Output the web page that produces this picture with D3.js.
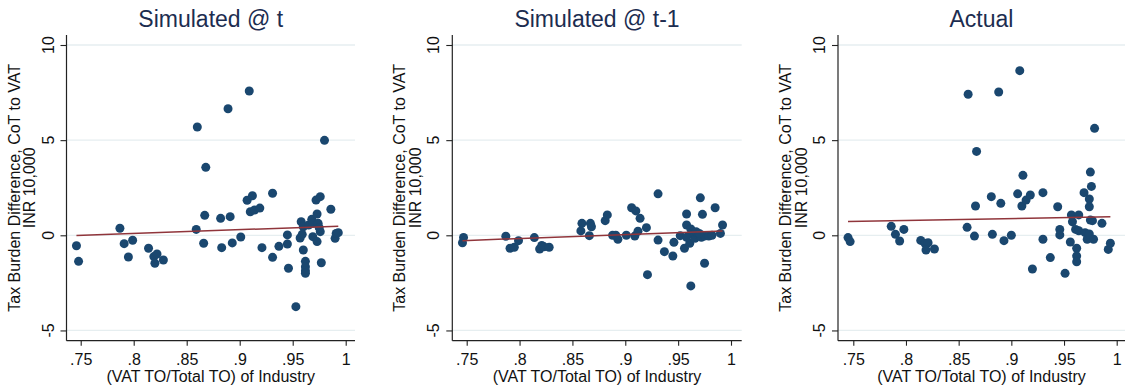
<!DOCTYPE html>
<html><head><meta charset="utf-8">
<script src="https://cdn.jsdelivr.net/npm/d3@7"></script>
<style>html,body{margin:0;padding:0;background:#fff;}svg{display:block;}</style>
</head><body>
<svg id="chart" width="1125" height="386"></svg>
<script>
const titles = ["Simulated @ t", "Simulated @ t-1", "Actual"];
const xTicks = [0.75, 0.8, 0.85, 0.9, 0.95, 1];
const xTickLabels = [".75", ".8", ".85", ".9", ".95", "1"];
const yTicks = [10, 5, 0, -5];
const yTickLabels = ["10", "5", "0", "-5"];
const xTitle = "(VAT TO/Total TO) of Industry";
const yTitleLines = ["Tax Burden Difference, CoT to VAT", "INR 10,000"];

const simTX = [.746,.748,.787,.791,.795,.799,.814,.819,.822,.820,.828,.859,.860,.867,.866,.868,.882,.883,.889,.891,.893,.901,.907,.909,.912,.910,.914,.919,.921,.931,.931,.937,.945,.945,.946,.953,.958,.960,.957,.959,.960,.962,.962,.962,.962,.965,.968,.969,.969,.972,.973,.974,.976,.976,.973,.977,.980,.986,.990,.991,.993,.975];
const simTY = [-0.55,-1.37,0.37,-0.44,-1.14,-0.26,-0.68,-1.12,-0.98,-1.47,-1.30,0.31,5.69,1.05,-0.42,3.57,0.89,-0.65,6.65,0.98,-0.40,-0.09,1.84,7.58,2.08,1.24,1.33,1.43,-0.65,2.21,-1.16,-0.58,0.02,-0.46,-1.73,-3.75,0.71,0.45,-0.14,0.05,-0.77,-1.37,-1.65,-1.86,-2.0,0.54,0.84,0.63,-0.07,1.85,1.12,0.63,2.03,0.19,-0.33,-1.44,4.99,1.37,-0.16,0.10,0.14,0.40];

const simT1X = [.746,.747,.787,.791,.795,.799,.814,.819,.821,.823,.828,.858,.859,.867,.868,.866,.881,.883,.888,.891,.893,.901,.906,.910,.914,.912,.909,.920,.931,.931,.921,.937,.945,.946,.952,.958,.958,.956,.962,.961,.962,.971,.973,.975,.985,.992,.990,.963,.966,.969,.972,.975,.979,.967,.958,.982,.970];
const simT1Y = [-0.39,-0.11,-0.05,-0.68,-0.63,-0.28,-0.12,-0.72,-0.53,-0.60,-0.63,0.23,0.63,0.63,0.45,-0.02,0.77,1.07,0.0,0.0,-0.21,0.0,1.45,1.28,0.89,0.21,-0.04,0.40,2.18,-0.25,-2.07,-0.86,-1.09,-0.37,-0.02,1.12,0.54,-0.68,0.33,-0.42,-2.66,1.97,1.10,-1.47,1.45,0.54,0.10,0.10,-0.16,0.02,-0.10,-0.04,-0.04,0.19,-0.10,0.0,0.10];

const actX = [.745,.747,.786,.790,.794,.798,.814,.818,.821,.819,.827,.858,.859,.865,.866,.867,.881,.882,.888,.890,.893,.900,.906,.908,.910,.911,.914,.918,.920,.930,.930,.937,.944,.946,.946,.951,.956,.957,.958,.961,.964,.964,.962,.962,.962,.969,.970,.972,.974,.974,.974,.975,.976,.975,.977,.978,.979,.986,.992,.994];
const actY = [-0.12,-0.33,0.47,0.05,-0.30,0.31,-0.27,-0.42,-0.39,-0.77,-0.72,0.42,7.41,-0.04,1.54,4.41,2.03,0.05,7.53,1.68,-0.28,0.0,2.18,8.65,1.54,3.15,1.85,2.12,-1.77,2.24,-0.21,-1.17,1.50,0.31,0.02,-2.0,-0.35,1.07,0.71,0.31,0.24,1.07,-0.68,-1.09,-1.39,2.24,0.14,-0.21,1.91,1.50,0.07,3.32,2.57,0.80,0.77,-0.21,5.62,0.63,-0.74,-0.42];

// fitted line values at the smallest and largest x of each panel
const fitYStart = [-0.01, -0.28, 0.72];
const fitYEnd = [0.48, 0.23, 0.98];

const seriesX = [simTX, simT1X, actX];
const seriesY = [simTY, simT1Y, actY];

const svg = d3.select("#chart");
const font = "'Liberation Sans', Arial, Helvetica, sans-serif";
const layout = [
  {axis: 66.5, x0: 80.7, x1: 345.7, right: 355},
  {axis: 452.3, x0: 466.7, x1: 731, right: 741.7},
  {axis: 838, x0: 853.3, x1: 1116.7, right: 1125}
];
const plotTop = 35, plotBottom = 340.7;
const y = d3.scaleLinear().domain([0, 10]).range([235.3, 45]);

layout.forEach((L, i) => {
  const x = d3.scaleLinear().domain([0.75, 1]).range([L.x0, L.x1]);
  const g = svg.append("g");

  // gridlines
  g.selectAll("line.grid").data(yTicks).join("line").attr("class", "grid")
    .attr("x1", L.axis).attr("x2", L.right)
    .attr("y1", d => y(d)).attr("y2", d => y(d))
    .attr("stroke", "#e6eef0").attr("stroke-width", 1.3);

  // y axis
  const yAxis = d3.axisLeft(y).tickValues(yTicks).tickSize(6).tickFormat((d, k) => yTickLabels[k]);
  const ya = g.append("g").attr("transform", `translate(${L.axis},0)`).call(yAxis);
  ya.select(".domain").remove();
  ya.selectAll(".tick line").attr("stroke", "#222").attr("stroke-width", 1.1);
  ya.selectAll(".tick text").remove();
  g.selectAll("text.ytl").data(yTicks).join("text").attr("class", "ytl")
    .attr("transform", d => `translate(${L.axis - 13},${y(d)}) rotate(-90)`)
    .attr("text-anchor", "middle")
    .attr("font-family", font).attr("font-size", 16).attr("fill", "#111")
    .text((d, k) => yTickLabels[k]);
  g.append("line").attr("x1", L.axis).attr("x2", L.axis).attr("y1", plotTop).attr("y2", plotBottom)
    .attr("stroke", "#222").attr("stroke-width", 1.2);

  // x axis
  const xAxis = d3.axisBottom(x).tickValues(xTicks).tickSize(5).tickFormat((d, k) => xTickLabels[k]);
  const xa = g.append("g").attr("transform", `translate(0,${plotBottom})`).call(xAxis);
  xa.select(".domain").remove();
  xa.selectAll(".tick line").attr("stroke", "#222").attr("stroke-width", 1.1);
  xa.selectAll(".tick text").attr("y", 13).attr("dy", "0.71em")
    .attr("font-family", font).attr("font-size", 16).attr("fill", "#111");
  g.append("line").attr("x1", L.axis).attr("x2", L.right).attr("y1", plotBottom).attr("y2", plotBottom)
    .attr("stroke", "#222").attr("stroke-width", 1.2);

  // axis titles
  g.append("text").attr("x", (L.axis + L.right) / 2).attr("y", 382)
    .attr("text-anchor", "middle").attr("font-family", font).attr("font-size", 16).attr("fill", "#111")
    .text(xTitle);
  const midY = (plotTop + plotBottom) / 2;
  yTitleLines.forEach((t, k) => {
    g.append("text").attr("transform", `translate(${L.axis + (k === 0 ? -47 : -31.5)},${midY}) rotate(-90)`)
      .attr("text-anchor", "middle").attr("font-family", font).attr("font-size", 16).attr("fill", "#111")
      .text(t);
  });

  // title
  g.append("text").attr("x", (L.axis + L.right) / 2).attr("y", 27)
    .attr("text-anchor", "middle").attr("font-family", font).attr("font-size", 23).attr("fill", "#1c2d50")
    .text(titles[i]);

  // points
  const xs = seriesX[i], ys = seriesY[i];
  g.selectAll("circle").data(xs.map((v, k) => [v, ys[k]])).join("circle")
    .attr("cx", d => x(d[0])).attr("cy", d => y(d[1])).attr("r", 4.5)
    .attr("fill", "#1a476f");

  // fitted line
  const ext = d3.extent(xs);
  g.append("line")
    .attr("x1", x(ext[0])).attr("y1", y(fitYStart[i]))
    .attr("x2", x(ext[1])).attr("y2", y(fitYEnd[i]))
    .attr("stroke", "#90353b").attr("stroke-width", 1.5);
});
</script>
</body></html>
